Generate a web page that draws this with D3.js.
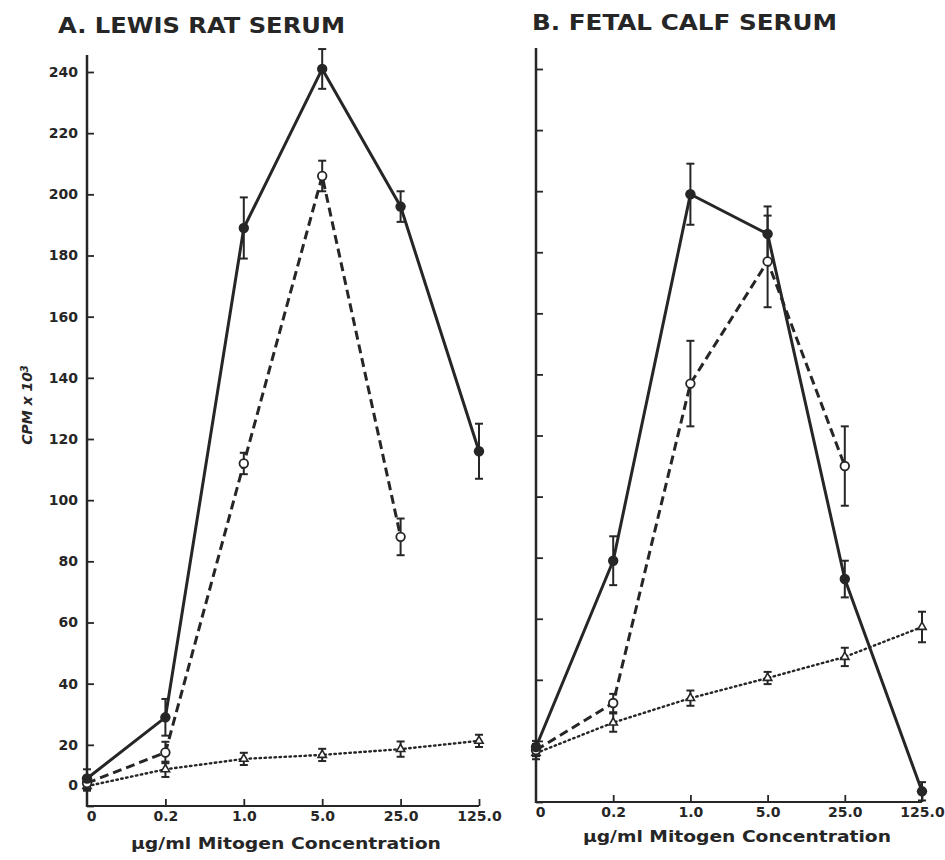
<!DOCTYPE html>
<html>
<head>
<meta charset="utf-8">
<script src="https://cdn.jsdelivr.net/npm/d3@7"></script>
<style>
  html, body { margin: 0; padding: 0; background: #fff; }
  svg { display: block; }
  text { fill: #262626; }
</style>
</head>
<body>
<svg id="chart" width="945" height="860"></svg>
<script>
// Mitogen concentrations (µg/ml), shown as evenly spaced categories
const concentrations = ["0", "0.2", "1.0", "5.0", "25.0", "125.0"];
const yTicks = [0, 20, 40, 60, 80, 100, 120, 140, 160, 180, 200, 220, 240];

// Panel A: Lewis rat serum (CPM x 10^3, mean and error)
const ratSolid      = [9, 29, 189, 241, 196, 116];
const ratSolidErr   = [3, 6, 10, 6.5, 5, 9];
const ratDashed     = [7.5, 17.5, 112, 206, 88];
const ratDashedErr  = [2, 3.5, 3.5, 5, 6];
const ratDotted     = [6.5, 12, 15.4, 16.7, 18.6, 21.3];
const ratDottedErr  = [1.5, 2.5, 2, 2, 2.5, 2];

// Panel B: fetal calf serum
const fcsSolid      = [18, 79, 199, 186, 73, 3.5];
const fcsSolidErr   = [2, 8, 10, 9, 6, 3];
const fcsDashed     = [17, 32.4, 137, 177, 110];
const fcsDashedErr  = [2, 3, 14, 15, 13];
const fcsDotted     = [16, 26, 34, 40.6, 47.5, 57.3];
const fcsDottedErr  = [2, 3, 2.5, 2, 3, 5];

const INK = "#262626";
const svg = d3.select("#chart");

function toPoints(vals, errs) {
  return vals.map((v, i) => ({ c: concentrations[i], v: v, e: errs[i] }));
}

function drawPanel(cfg) {
  const g = svg.append("g");
  const x = d3.scalePoint().domain(concentrations).range([cfg.x0, cfg.x1]).padding(0);
  const y = d3.scaleLinear().domain([0, 240]).range([cfg.y0, cfg.y240]);

  // title
  g.append("text")
    .attr("x", cfg.titleX).attr("y", cfg.titleY)
    .attr("textLength", cfg.titleW).attr("lengthAdjust", "spacingAndGlyphs")
    .style("font-family", "'DejaVu Sans', 'Liberation Sans', sans-serif")
    .style("font-weight", "bold").style("font-size", "22px")
    .text(cfg.title);

  // y axis with inward ticks
  const yAxis = d3.axisLeft(y).tickValues(yTicks).tickSize(-7).tickPadding(9)
    .tickFormat(cfg.yLabels ? d3.format("d") : () => "");
  const ya = g.append("g").attr("transform", `translate(${cfg.x0},0)`).call(yAxis);
  ya.select(".domain").remove();
  ya.selectAll(".tick line").attr("stroke", INK).attr("stroke-width", 1.8);
  ya.selectAll(".tick text")
    .style("font-family", "'DejaVu Sans', sans-serif").style("font-weight", "bold")
    .style("font-size", "14px").style("fill", INK);
  ya.selectAll(".tick").filter(d => d === 0).select("text").attr("dy", "-1.2em");
  g.append("line")
    .attr("x1", cfg.x0).attr("x2", cfg.x0).attr("y1", cfg.yTop).attr("y2", cfg.y0 + 1)
    .attr("stroke", INK).attr("stroke-width", 2.5);

  // x axis with upward ticks
  const xAxis = d3.axisBottom(x).tickSize(-7).tickPadding(5);
  const xa = g.append("g").attr("transform", `translate(0,${cfg.y0})`).call(xAxis);
  xa.select(".domain").remove();
  xa.selectAll(".tick line").attr("stroke", INK).attr("stroke-width", 1.8);
  xa.selectAll(".tick").filter(d => d === "0").select("line").remove();
  xa.selectAll(".tick").filter(d => d === "0").select("text").attr("dx", "0.3em");
  xa.selectAll(".tick text")
    .style("font-family", "'DejaVu Sans', sans-serif").style("font-weight", "bold")
    .style("font-size", "14px").style("fill", INK);
  g.append("line")
    .attr("x1", cfg.x0 - 1).attr("x2", cfg.x1).attr("y1", cfg.y0).attr("y2", cfg.y0)
    .attr("stroke", INK).attr("stroke-width", 2.2);

  g.append("text")
    .attr("x", cfg.xTitleX).attr("y", cfg.xTitleY)
    .attr("textLength", cfg.xTitleW).attr("lengthAdjust", "spacingAndGlyphs")
    .style("font-family", "'DejaVu Sans', sans-serif").style("font-weight", "bold")
    .style("font-size", "15px")
    .text("µg/ml Mitogen Concentration");

  const line = d3.line().x(d => x(d.c)).y(d => y(d.v));

  const series = [
    { pts: toPoints(cfg.dotted, cfg.dottedErr), dash: "1.5,3.5", width: 2.4, cap: "round", marker: "tri" },
    { pts: toPoints(cfg.dashed, cfg.dashedErr), dash: "9,5", width: 3, cap: "butt", marker: "open" },
    { pts: toPoints(cfg.solid, cfg.solidErr), dash: null, width: 3, cap: "butt", marker: "filled" }
  ];

  series.forEach(s => {
    g.append("path").datum(s.pts)
      .attr("d", line).attr("fill", "none")
      .attr("stroke", INK).attr("stroke-width", s.width)
      .attr("stroke-linecap", s.cap).attr("stroke-linejoin", "round")
      .attr("stroke-dasharray", s.dash);
  });

  // error bars with caps
  series.forEach(s => {
    const eb = g.append("g").selectAll("g").data(s.pts).join("g");
    eb.append("line")
      .attr("x1", d => x(d.c)).attr("x2", d => x(d.c))
      .attr("y1", d => y(d.v + d.e)).attr("y2", d => y(d.v - d.e))
      .attr("stroke", INK).attr("stroke-width", 2);
    [1, -1].forEach(sign => {
      eb.append("line")
        .attr("x1", d => x(d.c) - 4).attr("x2", d => x(d.c) + 4)
        .attr("y1", d => y(d.v + sign * d.e)).attr("y2", d => y(d.v + sign * d.e))
        .attr("stroke", INK).attr("stroke-width", 2);
    });
  });

  // point markers
  series.forEach(s => {
    const m = g.append("g").selectAll("g").data(s.pts).join("g")
      .attr("transform", d => `translate(${x(d.c)},${y(d.v)})`);
    if (s.marker === "filled") {
      m.append("circle").attr("r", 5.2).attr("fill", INK);
    } else if (s.marker === "open") {
      m.append("circle").attr("r", 4.3).attr("fill", "#fff")
        .attr("stroke", INK).attr("stroke-width", 1.8);
    } else {
      m.append("path").attr("d", d3.symbol(d3.symbolTriangle, 30)())
        .attr("fill", "#fff").attr("stroke", INK).attr("stroke-width", 1.6);
    }
  });
}

drawPanel({
  title: "A. LEWIS RAT SERUM", titleX: 58, titleY: 33, titleW: 287,
  x0: 87, x1: 479, y0: 806, y240: 72, yTop: 55, yLabels: true,
  xTitleX: 131, xTitleY: 849, xTitleW: 310,
  solid: ratSolid, solidErr: ratSolidErr,
  dashed: ratDashed, dashedErr: ratDashedErr,
  dotted: ratDotted, dottedErr: ratDottedErr
});

drawPanel({
  title: "B. FETAL CALF SERUM", titleX: 532, titleY: 30, titleW: 305,
  x0: 536, x1: 922, y0: 802, y240: 69, yTop: 48, yLabels: false,
  xTitleX: 583, xTitleY: 842, xTitleW: 308,
  solid: fcsSolid, solidErr: fcsSolidErr,
  dashed: fcsDashed, dashedErr: fcsDashedErr,
  dotted: fcsDotted, dottedErr: fcsDottedErr
});

// shared y-axis title
const yTitle = svg.append("text")
  .attr("transform", "translate(32,405) rotate(-90)")
  .attr("text-anchor", "middle")
  .style("font-family", "'DejaVu Sans', sans-serif").style("font-weight", "bold")
  .style("font-style", "italic").style("font-size", "14px");
yTitle.append("tspan").text("CPM x 10");
yTitle.append("tspan").attr("dy", "-0.45em").style("font-size", "10px").text("3");
</script>
</body>
</html>
